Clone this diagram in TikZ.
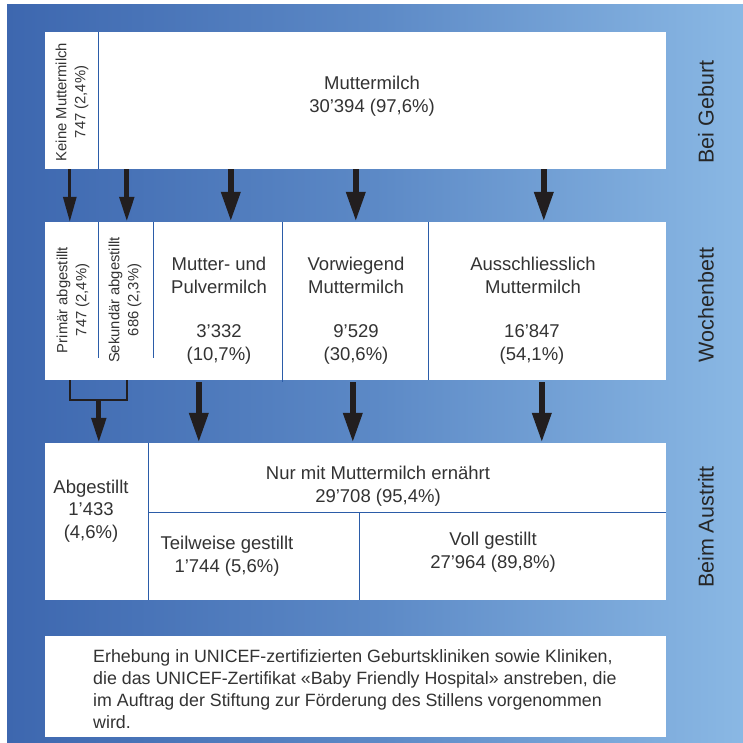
\documentclass[tikz,border=0pt]{standalone}
\usepackage{fontspec}
\setmainfont{Liberation Sans}
\usetikzlibrary{arrows.meta}
\definecolor{bgdark}{HTML}{3D67AF}
\definecolor{bgmid}{HTML}{5C89C6}
\definecolor{bglight}{HTML}{8AB8E4}
\definecolor{rulecol}{HTML}{2B5CA8}
\definecolor{ink}{HTML}{333333}
\definecolor{arrowink}{HTML}{221E1F}

\begin{document}
\begin{tikzpicture}[x=1pt,y=-1pt,
    box/.style={fill=white, inner sep=0pt, minimum width=621pt},
    lbl/.style={align=center, text=ink, font=\fontsize{18.5}{23}\selectfont},
    vlbl/.style={align=center, text=ink, rotate=90, font=\fontsize{14.8}{19}\selectfont},
    stage/.style={rotate=90, text=black!85, font=\fontsize{21.5}{26}\selectfont},
    sep/.style={draw=rulecol, line width=1.2pt},
    thinarrow/.style={draw=arrowink, line width=3pt, -{Triangle[width=13pt,length=25pt]}},
    midarrow/.style={draw=arrowink, line width=5pt, -{Triangle[width=14pt,length=25pt]}},
    fatarrow/.style={draw=arrowink, line width=6.5pt, -{Triangle[width=18pt,length=30pt]}}]
    \useasboundingbox (0,0) rectangle (743,743);
    \fill[left color=bgdark, right color=bglight, middle color=bgmid] (7,5) rectangle (743,743);

    \node[box, minimum height=137pt] (geburt) at (355.5,100.5) {};
    \node[box, minimum height=158pt] (wochenbett) at (355.5,301) {};
    \node[box, minimum height=157pt] (austritt) at (355.5,521.5) {};
    \node[box, minimum height=101pt] (hinweis) at (355.5,686.5) {};

    \draw[sep] ([xshift=54pt]geburt.north west) -- ([xshift=54pt]geburt.south west);
    \draw[sep] ([xshift=54pt]wochenbett.north west) -- ++(0,136);
    \draw[sep] ([xshift=109pt]wochenbett.north west) -- ++(0,136);
    \draw[sep] ([xshift=238pt]wochenbett.north west) -- ([xshift=238pt,yshift=-2pt]wochenbett.south west);
    \draw[sep] ([xshift=384pt]wochenbett.north west) -- ([xshift=384pt]wochenbett.south west);
    \draw[sep] ([xshift=104pt]austritt.north west) -- ([xshift=104pt]austritt.south west);
    \draw[sep] ([xshift=104pt,yshift=-70pt]austritt.north west) -- ([yshift=-70pt]austritt.north east);
    \draw[sep] ([xshift=315pt,yshift=-70pt]austritt.north west) -- ([xshift=315pt]austritt.south west);

    \node[vlbl] (keine) at (72,102) {Keine Muttermilch\\747 (2,4\%)};
    \node[lbl] (muttermilch) at (372,96) {Muttermilch\\30’394 (97,6\%)};

    \node[vlbl] (primaer) at (73,300) {Primär abgestillt\\747 (2,4\%)};
    \node[vlbl] (sekundaer) at (125,300) {Sekundär abgestillt\\686 (2,3\%)};
    \node[lbl] (pulver) at (219,275) {Mutter- und\\Pulvermilch};
    \node[lbl] (pulverzahl) at (219,344) {3’332\\(10,7\%)};
    \node[lbl] (vorwiegend) at (356,275) {Vorwiegend\\Muttermilch};
    \node[lbl] (vorwiegendzahl) at (356,344) {9’529\\(30,6\%)};
    \node[lbl] (ausschl) at (533,275) {Ausschliesslich\\Muttermilch};
    \node[lbl] (ausschlzahl) at (532,344) {16’847\\(54,1\%)};

    \node[lbl, font=\fontsize{18.5}{22.5}\selectfont] (abgestillt) at (91,511) {Abgestillt\\1’433\\(4,6\%)};
    \node[lbl] (nurmm) at (378,486) {Nur mit Muttermilch ernährt\\29’708 (95,4\%)};
    \node[lbl] (teilweise) at (227,556) {Teilweise gestillt\\1’744 (5,6\%)};
    \node[lbl] (voll) at (493,552) {Voll gestillt\\27’964 (89,8\%)};

    \node[lbl, align=left, anchor=west, inner sep=0pt, font=\fontsize{17.8}{22}\selectfont] (erhebung) at (93,689)
      {Erhebung in UNICEF-zertifizierten Geburtskliniken sowie Kliniken,\\
       die das UNICEF-Zertifikat «Baby Friendly Hospital» anstreben, die\\
       im Auftrag der Stiftung zur Förderung des Stillens vorgenommen\\
       wird.};

    \node[stage] (s1) at (706,112) {Bei Geburt};
    \node[stage] (s2) at (706,305) {Wochenbett};
    \node[stage] (s3) at (706,527) {Beim Austritt};

    \draw[thinarrow] ([xshift=25pt]geburt.south west) -- ([xshift=25pt]wochenbett.north west);
    \draw[midarrow] ([xshift=82pt]geburt.south west) -- ([xshift=82pt]wochenbett.north west);
    \draw[fatarrow] ([xshift=186pt]geburt.south west) -- ([xshift=186pt]wochenbett.north west);
    \draw[fatarrow] ([xshift=311pt]geburt.south west) -- ([xshift=311pt]wochenbett.north west);
    \draw[fatarrow] ([xshift=499pt]geburt.south west) -- ([xshift=499pt]wochenbett.north west);

    \draw[draw=arrowink, line width=2.5pt] ([xshift=25pt]wochenbett.south west) -- ++(0,20) -| ([xshift=82pt]wochenbett.south west);
    \draw[midarrow] ([xshift=54pt,yshift=-20pt]wochenbett.south west) -- ([xshift=54pt]austritt.north west);
    \draw[fatarrow] ([xshift=154pt,yshift=-2pt]wochenbett.south west) -- ([xshift=154pt]austritt.north west);
    \draw[fatarrow] ([xshift=308pt,yshift=-2pt]wochenbett.south west) -- ([xshift=308pt]austritt.north west);
    \draw[fatarrow] ([xshift=497pt,yshift=-2pt]wochenbett.south west) -- ([xshift=497pt]austritt.north west);
\end{tikzpicture}
\end{document}
